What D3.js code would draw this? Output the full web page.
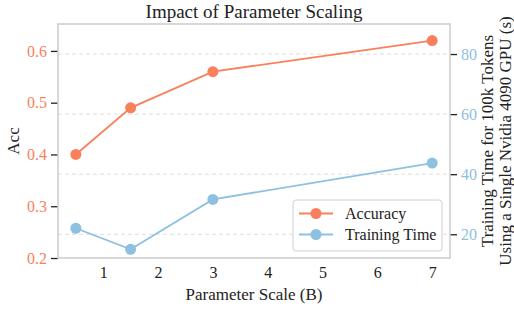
<!DOCTYPE html>
<html>
<head>
<meta charset="utf-8">
<script src="https://cdn.jsdelivr.net/npm/d3@7"></script>
<style>
  html, body { margin: 0; padding: 0; background: #fff; }
  svg { display: block; font-family: "Liberation Serif", "Times New Roman", serif; }
</style>
</head>
<body>
<div id="chart"></div>
<script>
// data
const scales = [0.5, 1.5, 3, 7];
const accuracy = [0.40, 0.49, 0.56, 0.62];
const trainingTime = [22.0, 15.0, 31.6, 43.7];
const xTicks = [1, 2, 3, 4, 5, 6, 7];
const accTicks = [0.2, 0.3, 0.4, 0.5, 0.6];
const timeTicks = [20, 40, 60, 80];
const seriesNames = ["Accuracy", "Training Time"];

const orange = "#fa7f5c";
const blue = "#8ec1df";
const width = 514, height = 312;
const plot = { left: 58, right: 450, top: 24, bottom: 258 };

const svg = d3.select("#chart").append("svg")
    .attr("width", width)
    .attr("height", height);

const x = d3.scaleLinear().domain([0.175, 7.325]).range([plot.left, plot.right]);
const yAcc = d3.scaleLinear().domain([0.2, 0.652]).range([plot.bottom, plot.top]);
const yTime = d3.scaleLinear().domain([12.1, 90]).range([plot.bottom, plot.top]);

// dashed grid follows the right axis ticks
svg.append("g")
    .selectAll("line")
    .data(timeTicks)
    .join("line")
    .attr("x1", plot.left)
    .attr("x2", plot.right)
    .attr("y1", (d) => yTime(d))
    .attr("y2", (d) => yTime(d))
    .attr("stroke", "#dedede")
    .attr("stroke-width", 1)
    .attr("stroke-dasharray", "4,3");

// left axis
const leftAxis = svg.append("g")
    .attr("transform", `translate(${plot.left},0)`)
    .call(d3.axisLeft(yAcc).tickValues(accTicks).tickFormat(d3.format(".1f")).tickSize(7).tickPadding(4));
leftAxis.select(".domain").remove();
leftAxis.selectAll(".tick line").attr("stroke", "#222").attr("stroke-width", 1.3);
leftAxis.selectAll(".tick text")
    .attr("fill", orange)
    .style("font-size", "16px")
    .style("font-family", "Liberation Serif, serif");

// right axis
const rightAxis = svg.append("g")
    .attr("transform", `translate(${plot.right},0)`)
    .call(d3.axisRight(yTime).tickValues(timeTicks).tickSize(7).tickPadding(4));
rightAxis.select(".domain").remove();
rightAxis.selectAll(".tick line").attr("stroke", "#222").attr("stroke-width", 1.3);
rightAxis.selectAll(".tick text")
    .attr("fill", blue)
    .style("font-size", "16px")
    .style("font-family", "Liberation Serif, serif");

// bottom axis, labels only
const bottomAxis = svg.append("g")
    .attr("transform", `translate(0,${plot.bottom})`)
    .call(d3.axisBottom(x).tickValues(xTicks).tickFormat(d3.format("d")).tickSize(0).tickPadding(9));
bottomAxis.select(".domain").remove();
bottomAxis.selectAll(".tick text")
    .attr("fill", "#222")
    .style("font-size", "16px")
    .style("font-family", "Liberation Serif, serif");

// frame
svg.append("rect")
    .attr("x", plot.left)
    .attr("y", plot.top)
    .attr("width", plot.right - plot.left)
    .attr("height", plot.bottom - plot.top)
    .attr("fill", "none")
    .attr("stroke", "#cccccc")
    .attr("stroke-width", 1.5);

// series
const series = [
    { name: seriesNames[0], values: accuracy, y: yAcc, color: orange },
    { name: seriesNames[1], values: trainingTime, y: yTime, color: blue },
];

series.forEach((s) => {
    const pts = scales.map((v, i) => [v, s.values[i]]);
    svg.append("path")
        .datum(pts)
        .attr("fill", "none")
        .attr("stroke", s.color)
        .attr("stroke-width", 1.8)
        .attr("d", d3.line().x((d) => x(d[0])).y((d) => s.y(d[1])));
    svg.append("g")
        .selectAll("circle")
        .data(pts)
        .join("circle")
        .attr("cx", (d) => x(d[0]))
        .attr("cy", (d) => s.y(d[1]))
        .attr("r", 5.5)
        .attr("fill", s.color);
});

// title and labels
svg.append("text")
    .attr("x", (plot.left + plot.right) / 2)
    .attr("y", 18)
    .attr("text-anchor", "middle")
    .attr("fill", "#222")
    .style("font-size", "19px")
    .text("Impact of Parameter Scaling");

svg.append("text")
    .attr("x", (plot.left + plot.right) / 2)
    .attr("y", 300)
    .attr("text-anchor", "middle")
    .attr("fill", "#222")
    .style("font-size", "17px")
    .text("Parameter Scale (B)");

svg.append("text")
    .attr("transform", `translate(19,${(plot.top + plot.bottom) / 2}) rotate(-90)`)
    .attr("text-anchor", "middle")
    .attr("fill", "#222")
    .style("font-size", "17px")
    .text("Acc");

const rightLabel = svg.append("text")
    .attr("transform", `translate(493,${(plot.top + plot.bottom) / 2}) rotate(-90)`)
    .attr("text-anchor", "middle")
    .attr("fill", "#222")
    .style("font-size", "17px");
rightLabel.append("tspan").attr("x", 0).attr("dy", 0).text("Training Time for 100k Tokens");
rightLabel.append("tspan").attr("x", 0).attr("dy", 17.5).text("Using a Single Nvidia 4090 GPU (s)");

// legend
const legend = svg.append("g").attr("transform", "translate(293,200)");
legend.append("rect")
    .attr("width", 149)
    .attr("height", 51)
    .attr("rx", 3)
    .attr("fill", "#fff")
    .attr("fill-opacity", 0.85)
    .attr("stroke", "#d0d0d0")
    .attr("stroke-width", 1);
series.forEach((s, i) => {
    const g = legend.append("g").attr("transform", `translate(0,${13.5 + i * 21})`);
    g.append("line")
        .attr("x1", 6).attr("x2", 40)
        .attr("stroke", s.color).attr("stroke-width", 1.8);
    g.append("circle").attr("cx", 23).attr("r", 5.5).attr("fill", s.color);
    g.append("text")
        .attr("x", 52)
        .attr("dy", "0.35em")
        .attr("fill", "#222")
        .style("font-size", "16px")
        .text(s.name);
});
</script>
</body>
</html>
